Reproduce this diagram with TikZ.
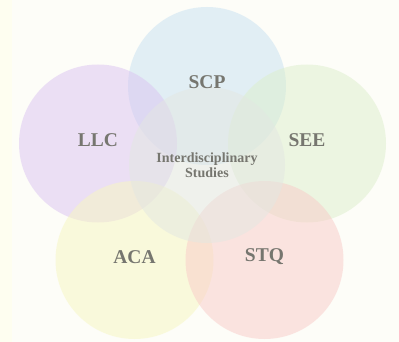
\documentclass[tikz,border=0pt]{standalone}
\usepackage{fontspec}
\setmainfont{Liberation Serif}
\definecolor{bgcream}{HTML}{FDFDF8}
\definecolor{bgstrip}{HTML}{FEFEF0}
\definecolor{labelgray}{HTML}{76766F}
\definecolor{scpblue}{HTML}{C7E1F2}
\definecolor{llcpurple}{HTML}{DBC3F2}
\definecolor{seegreen}{HTML}{DDEFCC}
\definecolor{acayellow}{HTML}{F7F7C0}
\definecolor{stqpink}{HTML}{F9CBC8}
\definecolor{idsgray}{HTML}{E3E7E2}
\begin{document}
\begin{tikzpicture}[x=1pt,y=-1pt,
  field/.style={circle,minimum size=158pt,inner sep=0pt,fill opacity=0.5},
  tag/.style={text=labelgray,font=\fontsize{19.5}{20}\selectfont\bfseries}]
\fill[bgcream] (0,0) rectangle (399,342);
\fill[bgstrip] (0,0) rectangle (12,342);
\useasboundingbox (0,0) rectangle (399,342);
% the five fields
\node[field,fill=scpblue] (SCP) at (207,86) {};
\node[field,fill=llcpurple] (LLC) at (98,143.5) {};
\node[field,fill=seegreen] (SEE) at (307,143.5) {};
\node[field,fill=acayellow] (ACA) at (134.5,260) {};
\node[field,fill=stqpink] (STQ) at (264.5,260) {};
\node[field,fill=idsgray,minimum size=156pt] (IDS) at (207,165) {};
% labels on top
\node[tag] (SCPtext) at (207,82) {SCP};
\node[tag] (LLCtext) at (98,140) {LLC};
\node[tag] (SEEtext) at (307,140) {SEE};
\node[tag] (ACAtext) at (134.5,257) {ACA};
\node[tag] (STQtext) at (264.5,257) {STQ};
\node[tag,align=center,font=\fontsize{14}{15}\selectfont\bfseries] (IDStext) at (207,165) {Interdisciplinary\\Studies};
\end{tikzpicture}
\end{document}
